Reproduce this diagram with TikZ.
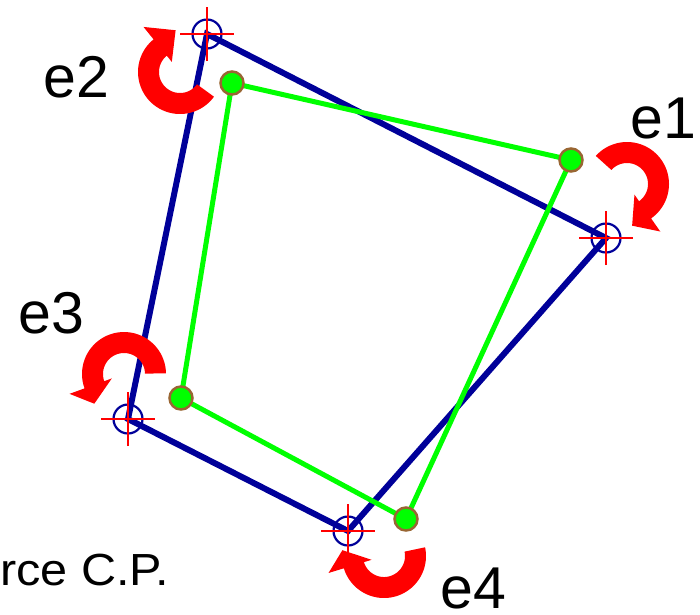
\documentclass[tikz,border=0pt]{standalone}
\usepackage{fontspec}
\setmainfont{Liberation Sans}
\definecolor{bluepoly}{RGB}{0,0,153}
\definecolor{greenpoly}{RGB}{0,255,0}
\definecolor{dotbrown}{RGB}{153,102,51}
\definecolor{arrowred}{RGB}{255,0,0}
\definecolor{crossred}{RGB}{255,0,0}
\tikzset{
  blueline/.style={draw=bluepoly, line width=6, line join=miter},
  greenline/.style={draw=greenpoly, line width=5, line join=round},
  greendot/.style={circle, fill=greenpoly, draw=dotbrown, line width=2.5, minimum size=23, inner sep=0},
  targetring/.style={circle, draw=bluepoly, line width=2.2, minimum size=29, inner sep=0},
  crossline/.style={draw=crossred, line width=2.2},
  elabel/.style={inner sep=0, anchor=base west, font=\fontsize{59}{70}\selectfont},
  srclabel/.style={inner sep=0, anchor=base west, xscale=1.08, font=\fontsize{45}{54}\selectfont},
}
% curved arrow: center x, center y, tail angle, head-base angle, tip angle
\newcommand{\rotarrow}[5]{%
  \begin{scope}[shift={(#1,#2)}]
    \fill[arrowred] plot[domain=#3:#4, samples=50] (\x:42) -- (#4:58) -- (#5:42) -- (#4:13)
      -- plot[domain=#4:#3, samples=50] (\x:21) -- cycle;
  \end{scope}}
\begin{document}
\begin{tikzpicture}[x=1pt,y=-1pt]
\useasboundingbox (0,0) rectangle (700,614);
% point coordinates
\coordinate (b1) at (606,238);
\coordinate (b2) at (207,34);
\coordinate (b3) at (128,419);
\coordinate (b4) at (348,531);
\coordinate (g1) at (571,160);
\coordinate (g2) at (232,83);
\coordinate (g3) at (181,398);
\coordinate (g4) at (406,519);
% blue quadrilateral
\draw[blueline] (b2) -- (b1) -- (b4) -- (b3) -- cycle;
% green quadrilateral
\draw[greenline] (g2) -- (g1) -- (g4) -- (g3) -- cycle;
% blue target markers
\foreach \p in {b1,b2,b3,b4}{
  \node[targetring] (ring-\p) at (\p) {};
  \draw[crossline] ([xshift=-27]\p) -- ([xshift=27]\p);
  \draw[crossline] ([yshift=-27]\p) -- ([yshift=27]\p);
}
% green dots
\foreach \p in {g1,g2,g3,g4}{
  \node[greendot] (dot-\p) at (\p) {};
}
% red rotation arrows
\rotarrow{627}{184}{222}{415}{443}
\rotarrow{180}{72}{36}{231}{264}
\rotarrow{124}{374}{359}{160}{135}
\rotarrow{384}{556}{-12}{163}{188}
% labels
\node[elabel] (e1) at (630,138) {e1};
\node[elabel] (e2) at (43,97) {e2};
\node[elabel] (e3) at (18,333) {e3};
\node[elabel] (e4) at (440,608) {e4};
\node[srclabel] (src) at (0,585) {rce C.P.};
\end{tikzpicture}
\end{document}
